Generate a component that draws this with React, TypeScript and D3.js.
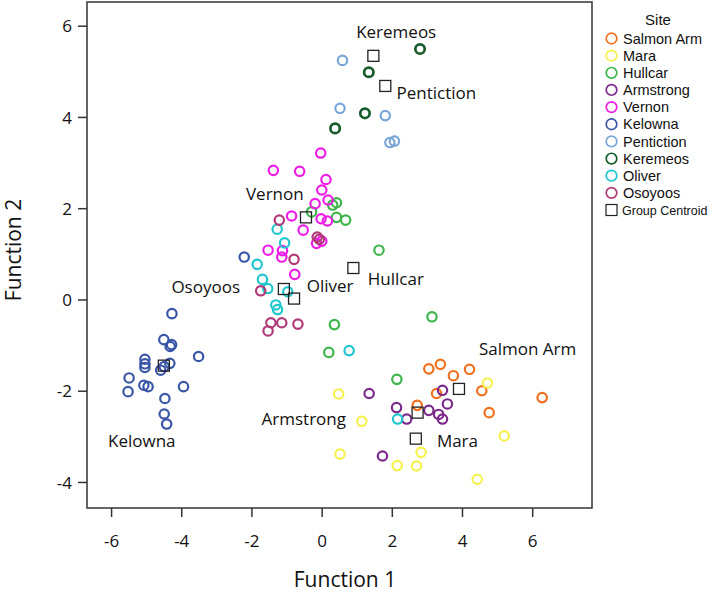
import React from "react";
import * as d3 from "d3";

// ---- data (Function 1, Function 2) ----
const sites = ["Salmon Arm", "Mara", "Hullcar", "Armstrong", "Vernon", "Kelowna", "Pentiction", "Keremeos", "Oliver", "Osoyoos"];
const siteColors = ["#f0701f", "#f5f24e", "#3db54a", "#7b2a8c", "#ec1ee6", "#3a56a6", "#7aa6d8", "#175c2c", "#20c6cf", "#b03a78"];

const salmonArm: [number, number][] = [[3.04, -1.51], [3.37, -1.41], [3.74, -1.66], [4.2, -1.52], [3.26, -2.05], [4.55, -1.99], [6.27, -2.14], [4.76, -2.47], [2.71, -2.31]];
const mara: [number, number][] = [[4.71, -1.82], [0.47, -2.06], [1.13, -2.66], [5.19, -2.98], [0.51, -3.38], [2.82, -3.34], [2.14, -3.63], [2.69, -3.64], [4.42, -3.93]];
const hullcar: [number, number][] = [[0.41, 2.13], [0.3, 2.08], [-0.3, 1.93], [0.41, 1.81], [0.67, 1.75], [1.62, 1.09], [0.35, -0.54], [3.13, -0.37], [0.19, -1.15], [2.13, -1.74]];
const armstrong: [number, number][] = [[1.34, -2.05], [3.43, -1.98], [3.57, -2.28], [2.12, -2.36], [3.04, -2.42], [3.32, -2.51], [3.43, -2.61], [2.41, -2.61], [1.72, -3.42]];
const vernon: [number, number][] = [[-0.04, 3.22], [-1.39, 2.84], [-0.64, 2.82], [0.11, 2.64], [-0.01, 2.41], [0.17, 2.19], [-0.2, 2.11], [-0.87, 1.84], [-0.03, 1.78], [0.15, 1.73], [-0.54, 1.53], [-1.54, 1.09], [-1.13, 1.08], [-1.15, 0.94], [-0.78, 0.56], [-0.16, 1.24], [-0.01, 1.29]];
const kelowna: [number, number][] = [[-2.22, 0.94], [-4.28, -0.3], [-4.51, -0.87], [-4.29, -0.98], [-4.33, -1.02], [-3.52, -1.24], [-5.05, -1.3], [-5.05, -1.4], [-5.05, -1.48], [-4.34, -1.39], [-4.6, -1.54], [-4.5, -1.46], [-5.5, -1.71], [-5.53, -2.01], [-5.08, -1.87], [-4.96, -1.9], [-3.95, -1.9], [-4.48, -2.16], [-4.5, -2.5], [-4.43, -2.72]];
const pentiction: [number, number][] = [[0.58, 5.25], [0.51, 4.2], [1.8, 4.04], [1.93, 3.45], [2.06, 3.48]];
const keremeos: [number, number][] = [[2.79, 5.5], [1.33, 4.99], [1.22, 4.09], [0.37, 3.76]];
const oliver: [number, number][] = [[-1.28, 1.55], [-1.07, 1.25], [-1.85, 0.78], [-1.7, 0.45], [-1.55, 0.25], [-0.98, 0.18], [-1.32, -0.11], [-1.27, -0.21], [0.77, -1.11], [2.15, -2.61]];
const osoyoos: [number, number][] = [[-1.22, 1.75], [-0.14, 1.38], [-0.08, 1.33], [-0.8, 0.89], [-1.75, 0.2], [-1.46, -0.5], [-1.15, -0.5], [-0.69, -0.53], [-1.54, -0.68]];
const siteData = [salmonArm, mara, hullcar, armstrong, vernon, kelowna, pentiction, keremeos, oliver, osoyoos];

const centroids: [number, number][] = [[3.9, -1.95], [2.67, -3.04], [0.89, 0.7], [2.72, -2.47], [-0.46, 1.81], [-4.51, -1.44], [1.8, 4.69], [1.46, 5.35], [-0.8, 0.03], [-1.09, 0.24]];

// label anchors in data units, with text anchor
const labelPos: [number, number][] = [[4.47, -1.2], [3.27, -3.22], [1.3, 0.32], [0.68, -2.74], [-2.17, 2.2], [-6.1, -3.22], [2.12, 4.4], [0.97, 5.74], [-0.44, 0.18], [-2.34, 0.16]];
const labelAnchor = ["start", "start", "start", "end", "start", "start", "start", "start", "start", "end"];

const xTicks = [-6, -4, -2, 0, 2, 4, 6];
const yTicks = [-4, -2, 0, 2, 4, 6];

export default function App() {
  const W = 714, H = 593;
  const x = d3.scaleLinear().domain([-6.7, 7.69]).range([87, 592]);
  const y = d3.scaleLinear().domain([-4.56, 6.53]).range([508, 2]);
  const font = "'Open Sans', sans-serif";
  const lfont = "'Liberation Sans', Arial, sans-serif";
  const sq = 11;
  return (
    <svg width={W} height={H} style={{ position: "absolute", left: 0, top: 0, background: "#fff" }}>
      <rect x={87} y={2} width={505} height={506} fill="none" stroke="#333" strokeWidth={1.5} />
      {xTicks.map((t) => (
        <g key={"x" + t}>
          <line x1={x(t)} x2={x(t)} y1={508} y2={517} stroke="#333" strokeWidth={1.5} />
          <text x={x(t)} y={547} textAnchor="middle" fontFamily={font} fontSize={17} fill="#111">{String(t)}</text>
        </g>
      ))}
      {yTicks.map((t) => (
        <g key={"y" + t}>
          <line x1={78} x2={87} y1={y(t)} y2={y(t)} stroke="#333" strokeWidth={1.5} />
          <text x={72} y={y(t)} dy="0.36em" textAnchor="end" fontFamily={font} fontSize={17} fill="#111">{String(t)}</text>
        </g>
      ))}
      <text x={345} y={587} textAnchor="middle" fontFamily={font} fontSize={21} fill="#111">Function 1</text>
      <text transform="translate(21,250) rotate(-90)" textAnchor="middle" fontFamily={font} fontSize={21} fill="#111">Function 2</text>

      {siteData.map((pts, i) => (
        <g key={"s" + i}>
          {pts.map((p, j) => (
            <circle key={j} cx={x(p[0])} cy={y(p[1])} r={4.7} fill="none" stroke={siteColors[i]} strokeWidth={i === 7 ? 2.7 : 2.2} />
          ))}
        </g>
      ))}
      {centroids.map((c, i) => (
        <rect key={"c" + i} x={x(c[0]) - sq / 2} y={y(c[1]) - sq / 2} width={sq} height={sq} fill="none" stroke="#222" strokeWidth={1.3} />
      ))}
      {sites.map((s, i) => (
        <text key={"l" + i} x={x(labelPos[i][0])} y={y(labelPos[i][1])} textAnchor={labelAnchor[i]} fontFamily={font} fontSize={17} fill="#111">{s}</text>
      ))}

      <text x={658} y={25} textAnchor="middle" fontFamily={lfont} fontSize={15} fill="#111">Site</text>
      {sites.map((s, i) => (
        <g key={"lg" + i}>
          <circle cx={611.5} cy={38.5 + i * 17.15} r={5.3} fill="none" stroke={siteColors[i]} strokeWidth={1.7} />
          <text x={623} y={38.5 + i * 17.15} dy="0.36em" fontFamily={lfont} fontSize={14.5} fill="#111">{s}</text>
        </g>
      ))}
      <rect x={611.5 - 5.5} y={210 - 5.5} width={11} height={11} fill="none" stroke="#222" strokeWidth={1.2} />
      <text x={622} y={210} dy="0.36em" fontFamily={lfont} fontSize={12.5} fill="#111">Group Centroid</text>
    </svg>
  );
}
